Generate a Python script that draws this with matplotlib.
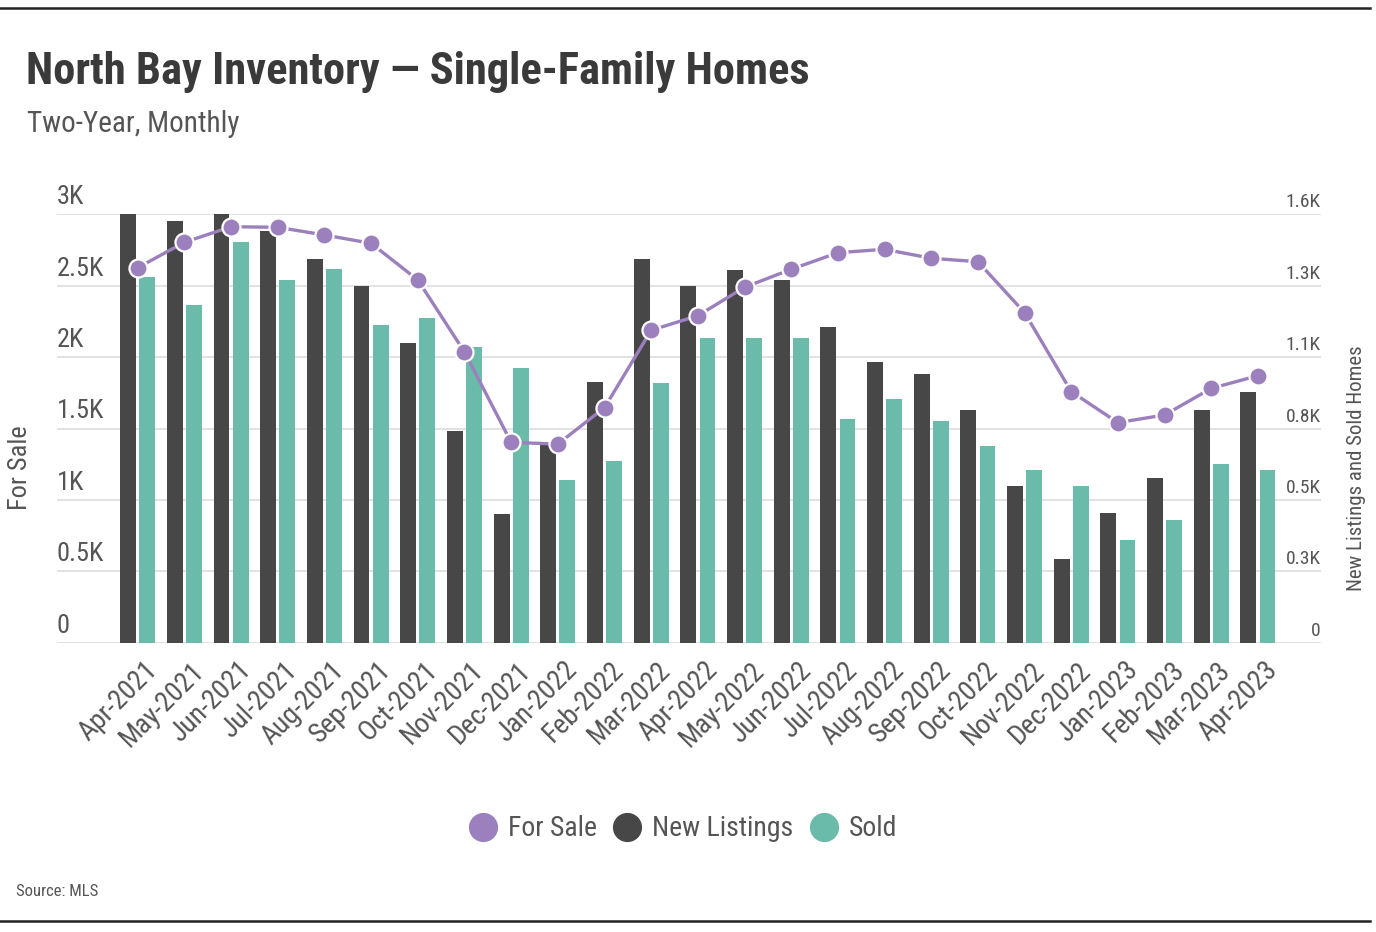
import matplotlib
matplotlib.use("Agg")
import matplotlib.pyplot as plt
from matplotlib import font_manager
from matplotlib.lines import Line2D
from matplotlib.transforms import ScaledTranslation, blended_transform_factory
import numpy as np

months = ["Apr-2021", "May-2021", "Jun-2021", "Jul-2021", "Aug-2021", "Sep-2021",
          "Oct-2021", "Nov-2021", "Dec-2021", "Jan-2022", "Feb-2022", "Mar-2022",
          "Apr-2022", "May-2022", "Jun-2022", "Jul-2022", "Aug-2022", "Sep-2022",
          "Oct-2022", "Nov-2022", "Dec-2022", "Jan-2023", "Feb-2023", "Mar-2023",
          "Apr-2023"]
for_sale = [2626, 2804, 2913, 2909, 2855, 2797, 2540, 2036, 1403, 1391, 1646, 2188,
            2290, 2489, 2615, 2731, 2755, 2692, 2668, 2311, 1758, 1541, 1595, 1781, 1870]
new_listings = [1600, 1576, 1600, 1538, 1434, 1333, 1118, 790, 480, 738, 972, 1433,
                1332, 1393, 1353, 1178, 1049, 1003, 869, 586, 311, 486, 614, 869, 936]
sold = [1367, 1260, 1495, 1355, 1395, 1185, 1213, 1105, 1025, 608, 680, 971,
        1138, 1138, 1138, 835, 909, 829, 735, 646, 586, 384, 458, 667, 646]
left_ticks = [0, 500, 1000, 1500, 2000, 2500, 3000]
right_max = 1600
right_ticks = [right_max * k / 6 for k in range(7)]

available = {f.name for f in font_manager.fontManager.ttflist}
family = "DejaVu Sans"
for cand in ["Liberation Sans Narrow", "Roboto Condensed", "Open Sans Condensed", "Liberation Sans"]:
    if cand in available:
        family = cand
        break
plt.rcParams['font.family'] = [family, 'DejaVu Sans']

c_purple = "#9b80bd"
c_dark = "#474747"
c_teal = "#6bbbaa"
c_text = "#555555"
c_grid = "#dddddd"

fig = plt.figure(figsize=(13.76, 9.32), dpi=100)
W, H = 1376, 932
ax1 = fig.add_axes([57 / W, 1 - 642.7 / H, (1321 - 57) / W, (642.7 - 214.3) / H])
ax2 = ax1.twinx()

x = np.arange(len(months))
bw = 0.34
off = 0.205
ax2.bar(x - off, new_listings, width=bw, color=c_dark, zorder=2)
ax2.bar(x + off, sold, width=bw, color=c_teal, zorder=2)
ax2.set_ylim(0, right_max)
ax2.set_yticks(right_ticks)
ax2.grid(axis='y', color=c_grid, linewidth=1.2, zorder=0)
ax2.set_axisbelow(True)

ax1.plot(x, for_sale, color=c_purple, linewidth=2.4, marker='o', markersize=13,
         markerfacecolor=c_purple, markeredgecolor='white', markeredgewidth=1.6, zorder=5)
ax1.set_ylim(0, 3000)
ax1.set_yticks(left_ticks)
ax1.set_zorder(ax2.get_zorder() + 1)
ax1.patch.set_visible(False)
ax1.set_xlim(-1.73, len(months) - 1 + 1.35)

for a in (ax1, ax2):
    for s in a.spines.values():
        s.set_visible(False)
    a.tick_params(axis='y', length=0, labelleft=False, labelright=False)

ax1.set_xticks(x)
ax1.set_xticklabels(months, rotation=45, ha='right', va='top', rotation_mode='anchor',
                    fontsize=20, color=c_text)
ax1.tick_params(axis='x', length=0, pad=10)
ax2.tick_params(axis='x', length=0)
for lbl in ax1.get_xticklabels():
    lbl.set_transform(lbl.get_transform() + ScaledTranslation(6 / 100, 0, fig.dpi_scale_trans))

def fmt(v):
    if v == 0:
        return "0"
    if abs(v % 1000) < 1e-9:
        return f"{int(v // 1000)}K"
    return f"{v / 1000:.1f}K"

tl = blended_transform_factory(ax1.transAxes, ax1.transData)
for v in left_ticks:
    ax1.text(0.0, v, fmt(v), transform=tl + ScaledTranslation(0, 10 / 100, fig.dpi_scale_trans),
             ha='left', va='baseline', fontsize=19, color=c_text)
tr = blended_transform_factory(ax2.transAxes, ax2.transData)
for v in right_ticks:
    ax2.text(1.0, v, fmt(v), transform=tr + ScaledTranslation(0, 7 / 100, fig.dpi_scale_trans),
             ha='right', va='baseline', fontsize=14, color=c_text)

fig.text(20 / W, 1 - 468 / H, "For Sale", rotation=90, ha='center', va='center',
         fontsize=19, color=c_text)
fig.text(1356 / W, 1 - 468 / H, "New Listings and Sold Homes", rotation=90, ha='center',
         va='center', fontsize=15, color=c_text)

fig.text(26 / W, 1 - 72 / H, "North Bay Inventory \u2014 Single-Family Homes", ha='left',
         va='center', fontsize=32, fontweight='bold', color="#3a3a3a")
fig.text(27 / W, 1 - 124 / H, "Two-Year, Monthly", ha='left', va='center', fontsize=21,
         color=c_text)
fig.text(16 / W, 1 - 891 / H, "Source: MLS", ha='left', va='center', fontsize=12,
         color=c_text)

handles = [Line2D([], [], linestyle='none', marker='o', markersize=20, color=c_purple),
           Line2D([], [], linestyle='none', marker='o', markersize=20, color=c_dark),
           Line2D([], [], linestyle='none', marker='o', markersize=20, color=c_teal)]
leg = fig.legend(handles, ["For Sale", "New Listings", "Sold"], loc='center',
                 bbox_to_anchor=(683 / W, 1 - 829 / H), ncol=3, frameon=False,
                 fontsize=20, handletextpad=0.4, columnspacing=0.6, handlelength=1.0,
                 labelcolor=c_text)

fig.add_artist(Line2D([0, 1370 / W], [1 - 8 / H, 1 - 8 / H], color="#222222", linewidth=1.8))
fig.add_artist(Line2D([0, 1370 / W], [1 - 921 / H, 1 - 921 / H], color="#222222", linewidth=1.8))

fig.savefig("out.png", dpi=100)
